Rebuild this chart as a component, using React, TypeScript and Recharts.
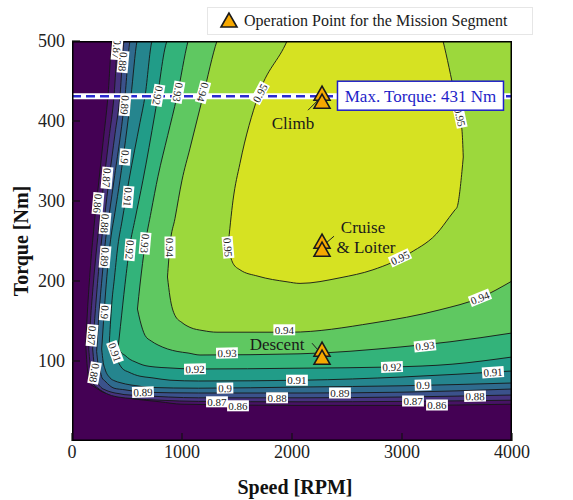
import React from 'react';
import { ComposedChart, Area, Line, Scatter, XAxis, YAxis, ReferenceArea } from 'recharts';

const speedTicks = [0, 1000, 2000, 3000, 4000];
const torqueTicks = [100, 200, 300, 400, 500];
const barTicks = [0.86, 0.87, 0.88, 0.89, 0.9, 0.91, 0.92, 0.93, 0.94, 0.95, 0.96];
const levelValues = [0.86, 0.87, 0.88, 0.89, 0.9, 0.91, 0.92, 0.93, 0.94, 0.95];
const bandColors = ['#471365', '#46337e', '#3b528b', '#2f6b8e', '#25858e', '#219c88', '#33b37a', '#5fc861', '#9cd83c', '#d6e222'];
const outsideColor = '#440154';

// each contour region: [speed, lower torque, upper torque] (upper > 500 = off the top)
const c086 = [[125, 120, 120], [136, 97, 151], [164, 72, 211], [200, 68, 268], [245, 64, 326], [282, 61, 373], [327, 59, 431], [364, 58, 500], [500, 54, 540], [800, 49, 540], [1000, 46, 540], [2000, 44.5, 540], [3000, 44.5, 540], [4000, 46, 540]];
const c087 = [[152, 115, 115], [164, 97, 143], [191, 72, 192], [227, 67, 245], [255, 64, 280], [291, 61, 326], [336, 58, 378], [382, 56, 431], [418, 55, 500], [550, 53, 540], [800, 51, 540], [1150, 49.5, 540], [2100, 49, 540], [3000, 49.5, 540], [4000, 51, 540]];
const c088 = [[188, 115, 115], [200, 97, 140], [227, 76, 189], [264, 67, 245], [300, 64, 285], [336, 62, 326], [391, 60, 384], [436, 59, 431], [473, 58, 500], [600, 57, 540], [1150, 54, 540], [2100, 54, 540], [3000, 55, 540], [4000, 57.5, 540]];
const c089 = [[224, 112, 112], [236, 97, 140], [255, 88, 176], [273, 79, 204], [300, 75, 245], [345, 69, 290], [382, 66, 326], [482, 64, 431], [527, 63, 500], [650, 61, 540], [1150, 60, 540], [2100, 60, 540], [3000, 61, 540], [4000, 65, 540]];
const c090 = [[270, 115, 115], [282, 100, 140], [300, 90, 176], [345, 79, 245], [391, 75, 286], [436, 73, 326], [536, 70, 431], [591, 69, 500], [700, 67, 540], [1150, 66, 540], [2100, 67.5, 540], [3000, 69, 540], [4000, 72.5, 540]];
const c091 = [[340, 125, 125], [364, 112, 176], [382, 107, 199], [418, 99, 245], [455, 91, 275], [518, 86, 326], [618, 81, 398], [664, 80, 431], [727, 79, 500], [891, 76, 540], [1150, 75, 540], [2100, 76, 540], [3000, 80, 540], [4000, 87.5, 540]];
const c092 = [[420, 118, 118], [440, 112, 143], [482, 107, 196], [527, 102, 245], [573, 99, 277], [645, 95, 326], [755, 92.5, 410], [864, 91.5, 500], [1118, 90, 540], [2073, 91, 540], [2909, 92.5, 540], [3455, 96, 540], [4000, 105, 540]];
const c093 = [[595, 165, 165], [618, 151, 195], [664, 132, 245], [720, 125, 287], [782, 120, 331], [870, 115, 382], [955, 112, 431], [1055, 110, 500], [1164, 107.5, 540], [2073, 109, 540], [2982, 117.5, 540], [3436, 124, 540], [4000, 135, 540]];
const c094 = [[868, 205, 205], [891, 180, 245], [936, 157, 278], [1000, 148, 326], [1073, 142, 366], [1191, 138, 431], [1318, 136, 500], [1500, 136, 540], [1982, 136, 540], [2736, 147.5, 540], [3345, 164, 540], [3709, 179, 540], [4000, 200, 540]];
const c095 = [[1418, 242, 242], [1464, 222, 301], [1527, 214, 347], [1691, 206, 431], [1955, 199, 500], [2073, 197, 540], [2436, 204, 540], [2736, 214, 540], [3073, 235, 540], [3345, 264, 515], [3373, 269, 500], [3482, 289, 431], [3500, 292, 419], [3545, 337, 389], [3557, 355, 355]];
const fullField = [[0, 0, 540], [4000, 0, 540]];

const contourLabels = [
  { x: 409, y: 490, text: '0.87', rot: 95 },
  { x: 464, y: 474, text: '0.88', rot: 95 },
  { x: 482, y: 420, text: '0.89', rot: 95 },
  { x: 782, y: 432, text: '0.92', rot: 100 },
  { x: 964, y: 436, text: '0.93', rot: 100 },
  { x: 1191, y: 436, text: '0.94', rot: 105 },
  { x: 1709, y: 435, text: '0.95', rot: -62 },
  { x: 3527, y: 405, text: '0.95', rot: 78 },
  { x: 482, y: 355, text: '0.9', rot: 95 },
  { x: 318, y: 329, text: '0.87', rot: 95 },
  { x: 236, y: 297, text: '0.86', rot: 95 },
  { x: 509, y: 305, text: '0.91', rot: 95 },
  { x: 300, y: 272, text: '0.88', rot: 95 },
  { x: 527, y: 239, text: '0.92', rot: 95 },
  { x: 664, y: 247, text: '0.93', rot: 95 },
  { x: 891, y: 242, text: '0.94', rot: 90 },
  { x: 1418, y: 242, text: '0.95', rot: 85 },
  { x: 300, y: 230, text: '0.89', rot: 95 },
  { x: 300, y: 161, text: '0.9', rot: 95 },
  { x: 182, y: 132, text: '0.87', rot: 95 },
  { x: 205, y: 85, text: '0.88', rot: 100 },
  { x: 391, y: 111, text: '0.91', rot: 70 },
  { x: 1118, y: 90, text: '0.92', rot: -1 },
  { x: 645, y: 61, text: '0.89', rot: -2 },
  { x: 1391, y: 66, text: '0.9', rot: -1 },
  { x: 1318, y: 49, text: '0.87', rot: 0 },
  { x: 1509, y: 44, text: '0.86', rot: 0 },
  { x: 1409, y: 110, text: '0.93', rot: -1 },
  { x: 1930, y: 139, text: '0.94', rot: 0 },
  { x: 3209, y: 119, text: '0.93', rot: -6 },
  { x: 2909, y: 92.5, text: '0.92', rot: -2 },
  { x: 2045, y: 76, text: '0.91', rot: 0 },
  { x: 3827, y: 86, text: '0.91', rot: -4 },
  { x: 3191, y: 70, text: '0.9', rot: -2 },
  { x: 1864, y: 54, text: '0.88', rot: 0 },
  { x: 2436, y: 60, text: '0.89', rot: 0 },
  { x: 3100, y: 50, text: '0.87', rot: 0 },
  { x: 3318, y: 45, text: '0.86', rot: 0 },
  { x: 3664, y: 56, text: '0.88', rot: -1 },
  { x: 2982, y: 229, text: '0.95', rot: -25 },
  { x: 3709, y: 179, text: '0.94', rot: -22 },
];

const missionPoints = [
  { x: 2273, y: 431, name: 'Climb' },
  { x: 2273, y: 246, name: 'Cruise & Loiter' },
  { x: 2273, y: 111, name: 'Descent' },
];

const maxTorque = 431;
const maxTorqueLine = [{ x: 0, y: maxTorque }, { x: 4000, y: maxTorque }];
const maxTorqueTag = [{ x: 3168, y: maxTorque, text: 'Max. Torque: 431 Nm' }];
const frame = [{ x: 0, y: 0 }, { x: 4000, y: 0 }, { x: 4000, y: 500 }, { x: 0, y: 500 }, { x: 0, y: 0 }];

const rows = (pts: number[][]) => pts.map(([x, lo, hi]) => ({ x, lo, hi }));
const regions = [c086, c087, c088, c089, c090, c091, c092, c093, c094, c095].map(rows);
const band = (d: any) => [d.lo, d.hi];

const serif = 'Liberation Serif, Times New Roman, serif';

const ContourTag = (p: any) => {
  const { cx, cy, payload } = p;
  if (cx == null || cy == null) return <g />;
  const w = payload.text.length * 5.2 + 1;
  return (
    <g transform={`translate(${cx},${cy}) rotate(${payload.rot})`}>
      <rect x={-w / 2} y={-5.5} width={w} height={11} fill="#fff" />
      <text x={0} y={4} textAnchor="middle" fontSize={11} fill="#222" fontFamily={serif}>
        {payload.text}
      </text>
    </g>
  );
};

const TorqueTag = (p: any) => {
  const { cx, cy, payload } = p;
  if (cx == null || cy == null) return <g />;
  return (
    <g>
      <rect x={cx - 83} y={cy - 15} width={166} height={29} fill="#fff" stroke="#1e1ec8" strokeWidth={1.5} />
      <text x={cx} y={cy + 6} textAnchor="middle" fontSize={17} fill="#1e1ec8" fontFamily={serif}>
        {payload.text}
      </text>
    </g>
  );
};

const tri = (cx: number, top: number) => `${cx},${top} ${cx - 8},${top + 14} ${cx + 8},${top + 14}`;

const noteStyle: Record<string, { lines: [string, number, number][]; lead: number[] }> = {
  Climb: { lines: [['Climb', -29, 33]], lead: [-14, 14, -4, 4] },
  'Cruise & Loiter': { lines: [['Cruise', 41, -11], ['& Loiter', 44, 9]], lead: [12, -8, 5, -2] },
  Descent: { lines: [['Descent', -45, -2]], lead: [-10, -9, -3, -1] },
};

const MissionMarker = (p: any) => {
  const { cx, cy, payload } = p;
  if (cx == null || cy == null) return <g />;
  const s = noteStyle[payload.name];
  return (
    <g>
      <line x1={cx + s.lead[0]} y1={cy + s.lead[1]} x2={cx + s.lead[2]} y2={cy + s.lead[3]} stroke="#222" strokeWidth={1} />
      <polygon points={tri(cx, cy - 10)} fill="#f6a800" stroke="#1a1a1a" strokeWidth={1.6} />
      <polygon points={tri(cx, cy - 2)} fill="#f6a800" stroke="#1a1a1a" strokeWidth={1.6} />
      {s.lines.map(([t, dx, dy]) => (
        <text key={t} x={cx + dx} y={cy + dy} textAnchor="middle" fontSize={17} fill="#1a1a1a" fontFamily={serif}>
          {t}
        </text>
      ))}
    </g>
  );
};

const YTitle = (p: any) => {
  const vb = p.viewBox || { x: 0, y: 41, width: 72, height: 400 };
  const x = vb.x + 21;
  const y = vb.y + vb.height / 2;
  return (
    <text x={x} y={y} transform={`rotate(-90 ${x} ${y})`} textAnchor="middle" dominantBaseline="central" fontSize={20} fontWeight="bold" fill="#111" fontFamily={serif}>
      Torque [Nm]
    </text>
  );
};

const XTitle = (p: any) => {
  const vb = p.viewBox || { x: 72, y: 441, width: 440, height: 59 };
  return (
    <text x={vb.x + vb.width / 2 + 3} y={vb.y + 53} textAnchor="middle" fontSize={20} fontWeight="bold" fill="#111" fontFamily={serif}>
      Speed [RPM]
    </text>
  );
};

const bands = levelValues.map((v, i) => ({ lo: v, hi: barTicks[i + 1], color: bandColors[i] }));

export default function App() {
  return (
    <div style={{ position: 'absolute', left: 0, top: 0, width: 573, height: 500, background: '#fff', fontFamily: serif }}>
      <ComposedChart width={573} height={500} margin={{ top: 41, right: 61, bottom: 0, left: 0 }}>
        <XAxis
          type="number"
          dataKey="x"
          domain={[0, 4000]}
          ticks={speedTicks}
          interval={0}
          allowDataOverflow
          height={59}
          axisLine={false}
          tickSize={-8}
          tickMargin={12}
          tickLine={{ stroke: '#111', strokeWidth: 1.2 }}
          tick={{ fontSize: 18, fill: '#222', fontFamily: serif }}
          label={<XTitle />}
        />
        <YAxis
          type="number"
          dataKey="y"
          domain={[0, 500]}
          ticks={torqueTicks}
          interval={0}
          allowDataOverflow
          width={72}
          axisLine={false}
          tickSize={-8}
          tickMargin={15}
          tickLine={{ stroke: '#111', strokeWidth: 1.2 }}
          tick={{ fontSize: 18, fill: '#222', fontFamily: serif }}
          label={<YTitle />}
        />
        <Area data={rows(fullField)} dataKey={band} type="linear" stroke="none" fill={outsideColor} fillOpacity={1} isAnimationActive={false} activeDot={false} />
        {regions.map((r, i) => (
          <Area
            key={levelValues[i]}
            data={r}
            dataKey={band}
            type="monotone"
            stroke="#161616"
            strokeWidth={0.9}
            fill={bandColors[i]}
            fillOpacity={1}
            isAnimationActive={false}
            activeDot={false}
          />
        ))}
        <Line data={maxTorqueLine} dataKey="y" stroke="#ffffff" strokeWidth={6} dot={false} activeDot={false} isAnimationActive={false} />
        <Line data={maxTorqueLine} dataKey="y" stroke="#2a2ad0" strokeWidth={2.5} strokeDasharray="9 5" dot={false} activeDot={false} isAnimationActive={false} />
        <Scatter data={contourLabels} shape={(p: any) => <ContourTag {...p} />} isAnimationActive={false} />
        <Scatter data={maxTorqueTag} shape={(p: any) => <TorqueTag {...p} />} isAnimationActive={false} />
        <Scatter data={missionPoints} shape={(p: any) => <MissionMarker {...p} />} isAnimationActive={false} />
        <Line data={frame} dataKey="y" stroke="#000" strokeWidth={3} dot={false} activeDot={false} isAnimationActive={false} />
      </ComposedChart>

      <div style={{ position: 'absolute', left: 207, top: 7, width: 326, height: 28, border: '1px solid #e6e6e6', boxSizing: 'border-box', background: '#fff', display: 'flex', alignItems: 'center' }}>
        <svg width={30} height={26} style={{ marginLeft: 6 }}>
          <polygon points="15,5 7,19 23,19" fill="#f6a800" stroke="#1a1a1a" strokeWidth={1.6} />
        </svg>
        <span style={{ fontSize: 16, color: '#1a1a1a', marginLeft: 0, fontFamily: serif, whiteSpace: 'nowrap' }}>
          Operation Point for the Mission Segment
        </span>
      </div>

      <div style={{ position: 'absolute', left: 519, top: 61 }}>
        <ComposedChart width={60} height={377} margin={{ top: 8, right: 0, bottom: 8, left: 0 }} data={[{ x: 0 }, { x: 1 }]}>
          <XAxis type="number" dataKey="x" domain={[0, 1]} hide />
          <YAxis
            type="number"
            orientation="right"
            domain={[0.86, 0.96]}
            ticks={barTicks}
            interval={0}
            width={41}
            axisLine={false}
            tickLine={false}
            tickMargin={6}
            tickFormatter={(v: number) => String(Number(v.toFixed(2)))}
            tick={{ fontSize: 13, fill: '#333', fontFamily: 'Liberation Sans, Arial, sans-serif' }}
          />
          {bands.map((b) => (
            <ReferenceArea key={b.lo} x1={0} x2={1} y1={b.lo} y2={b.hi} fill={b.color} fillOpacity={1} stroke="#1a1a1a" strokeWidth={0.8} ifOverflow="visible" />
          ))}
        </ComposedChart>
      </div>
    </div>
  );
}
